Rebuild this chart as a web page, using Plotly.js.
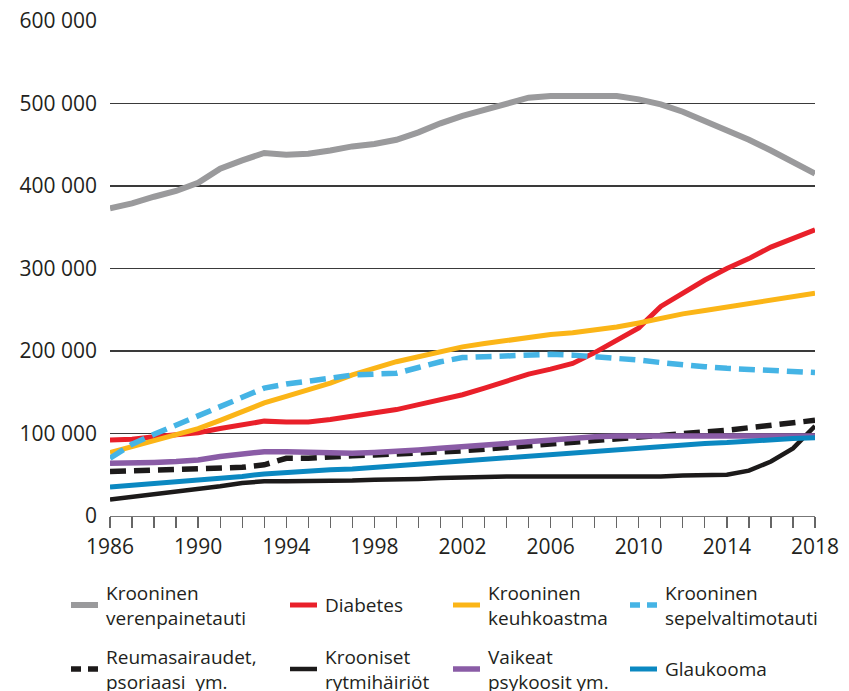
<!DOCTYPE html>
<html>
<head>
<meta charset="utf-8">
<script src="https://cdn.plot.ly/plotly-3.0.1.min.js"></script>
<style>html,body{margin:0;padding:0;background:#fff;}#chart{width:849px;height:691px;}</style>
</head>
<body>
<div id="chart"></div>
<script>
const years = [1986,1987,1988,1989,1990,1991,1992,1993,1994,1995,1996,1997,1998,1999,2000,2001,2002,2003,2004,2005,2006,2007,2008,2009,2010,2011,2012,2013,2014,2015,2016,2017,2018];

const verenpainetauti = [373000,379000,387000,394000,404000,421000,431000,440000,438000,439000,443000,448000,451000,456000,465000,476000,485000,492000,500000,507000,509000,509000,510000,509000,505000,499000,490000,479000,468000,456000,443000,429000,415000];
const diabetes = [92000,93000,96000,98000,101000,106000,110000,115000,114000,114000,117000,121000,125000,129000,135000,141000,147000,155000,163000,172000,178000,185000,198000,213000,228000,254000,270000,286000,300000,312000,326000,337000,347000];
const keuhkoastma = [77000,84000,91000,98000,106000,116000,126000,137000,145000,153000,161000,171000,179000,187000,193000,199000,205000,209000,213000,217000,220000,222000,225000,229000,234000,240000,245000,249000,253000,258000,262000,266000,270000];
const sepelvaltimotauti = [70000,87000,99000,110000,122000,133000,143000,155000,160000,163000,167000,171000,172000,173000,180000,187000,192000,193000,195000,196000,196000,195000,193000,192000,189000,186000,183000,181000,179000,178000,176000,176000,174000];
const reuma = [54000,55000,56000,57000,57000,58000,59000,62000,70000,70000,72000,73000,74000,75000,77000,78000,79000,81000,83000,85000,87000,89000,91000,93000,95000,97000,99000,101000,104000,107000,110000,113000,116000];
const rytmihairiot = [20000,23000,26000,29000,32000,36000,40000,42000,42000,42000,43000,43000,44000,44000,45000,46000,47000,47000,48000,48000,48000,47000,47000,47000,47000,48000,49000,49000,50000,55000,66000,82000,109000];
const psykoosit = [64000,64000,65000,66000,68000,72000,75000,78000,78000,77000,76000,76000,77000,78000,80000,82000,84000,87000,89000,91000,93000,95000,96000,97000,97000,98000,98000,98000,98000,98000,98000,97000,97000];
const glaukooma = [35000,37000,39000,41000,43000,45000,48000,51000,53000,54000,56000,57000,59000,60000,62000,64000,66000,68000,70000,72000,75000,77000,79000,81000,83000,85000,86000,88000,89000,91000,92000,94000,95000];

const names = ["Krooninen<br>verenpainetauti","Diabetes","Krooninen<br>keuhkoastma","Krooninen<br>sepelvaltimotauti","Reumasairaudet,<br>psoriaasi  ym.","Krooniset<br>rytmihäiriöt","Vaikeat<br>psykoosit ym.","Glaukooma"];
const series = [verenpainetauti, diabetes, keuhkoastma, sepelvaltimotauti, reuma, rytmihairiot, psykoosit, glaukooma];
const colors = ["#9a9a9c","#e9202a","#fbb517","#45b4e5","#1c1a1a","#1c1a1a","#8a5ca6","#0b88c1"];
const dashes = ["solid","solid","solid","16px,8px","16px,8px","solid","solid","solid"];
const widths = [6,5,5,5.5,5.5,4.5,5.5,5];

const traces = series.map((s,i)=>({
  x: years, y: s, type: "scatter", mode: "lines", name: names[i],
  line: {color: colors[i], width: widths[i], dash: dashes[i]},
  hoverinfo: "skip"
}));

// legend grid placement (page px): swatch left edges per column and row centres
const legCols = [71, 290, 453, 630];
const legRows = [605, 669];

const layout = {
  width: 849, height: 691,
  margin: {l:110, r:34, t:21, b:175},
  paper_bgcolor: "#fff", plot_bgcolor: "#fff",
  separators: ", ",
  font: {family: "Open Sans, sans-serif", color: "#231f20"},
  showlegend: true,
  xaxis: {
    range: [1986, 2018], tickvals: [1986,1990,1994,1998,2002,2006,2010,2014,2018],
    ticks: "outside", ticklen: 11, tickcolor: "#666", tickwidth: 1.3,
    minor: {dtick: 1, tick0: 1986, ticks: "outside", ticklen: 11, tickcolor: "#666", tickwidth: 1.3, showgrid: false},
    showline: true, linecolor: "#777", linewidth: 1.3,
    showgrid: false, zeroline: false,
    tickfont: {size: 21, color: "#231f20"}
  },
  yaxis: {
    range: [0, 600000], tickvals: [0,100000,200000,300000,400000,500000,600000],
    tickformat: ",d", showgrid: true, gridcolor: "#3a3a3a", gridwidth: 1.2,
    zeroline: false, showline: false, ticks: "", ticklabelstandoff: 12,
    tickfont: {size: 21, color: "#231f20"}
  },
  legend: {
    orientation: "h", x: -0.107, xanchor: "left", y: -0.05, yanchor: "top",
    font: {family: "Open Sans, sans-serif", size: 19, color: "#231f20"},
    entrywidth: 140, entrywidthmode: "pixels", itemwidth: 30, valign: "middle",
    traceorder: "normal", bgcolor: "rgba(0,0,0,0)"
  }
};

const gd = document.getElementById("chart");
Plotly.newPlot(gd, traces, layout, {displayModeBar: false, staticPlot: true}).then(() => {
  const items = gd.querySelectorAll("g.legend g.traces");
  const sb = gd.querySelector("g.legend g.scrollbox");
  if (sb) sb.removeAttribute("clip-path");
  items.forEach((g, i) => {
    const col = i % 4, row = Math.floor(i / 4);
    const m = g.parentNode.getScreenCTM();
    g.setAttribute("transform", `translate(${legCols[col] - 5 - m.e},${legRows[row] - m.f})`);
    g.querySelectorAll(".legendlines path").forEach(p => {
      p.setAttribute("d", "M5,0h27");
      if (dashes[i] !== "solid") p.style.strokeDasharray = "10px,7px";
    });
  });
});
</script>
</body>
</html>
